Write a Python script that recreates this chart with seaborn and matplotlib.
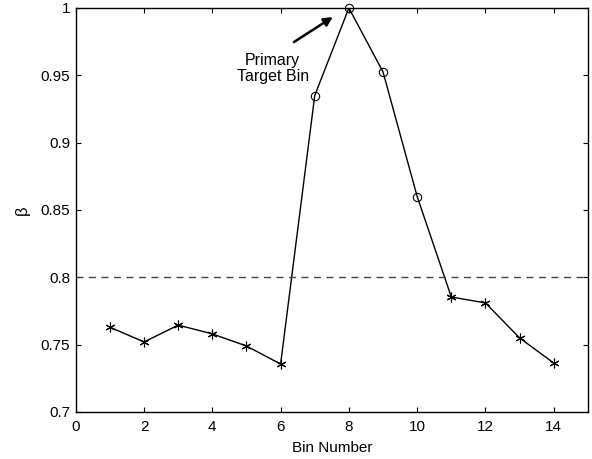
import matplotlib
matplotlib.use("Agg")
import matplotlib.pyplot as plt
import seaborn as sns
import pandas as pd

bins = [1, 2, 3, 4, 5, 6, 7, 8, 9, 10, 11, 12, 13, 14]
beta = [0.763, 0.752, 0.7645, 0.758, 0.749, 0.7356, 0.935, 1.0, 0.9525, 0.86, 0.7854, 0.781, 0.755, 0.7364]
target = [False]*6 + [True]*4 + [False]*4
threshold = 0.8
xticks = [0, 2, 4, 6, 8, 10, 12, 14]
yticks = [0.7, 0.75, 0.8, 0.85, 0.9, 0.95, 1.0]
ytick_labels = ["0.7", "0.75", "0.8", "0.85", "0.9", "0.95", "1"]

df = pd.DataFrame({"bin": bins, "beta": beta, "target": target})

sns.set_theme(style="white")
plt.rcParams['font.family'] = ['Liberation Sans', 'DejaVu Sans']
plt.rcParams['xtick.direction'] = 'in'
plt.rcParams['ytick.direction'] = 'in'
plt.rcParams['text.color'] = 'black'
plt.rcParams['axes.labelcolor'] = 'black'

fig = plt.figure(figsize=(5.92, 4.59), dpi=100)
ax = fig.add_axes([0.128, 0.1024, 0.865, 0.8802])

sns.lineplot(data=df, x="bin", y="beta", color="black", linewidth=1.0, ax=ax, legend=False)
other = df[~df["target"]]
tgt = df[df["target"]]
ax.plot(other["bin"], other["beta"], linestyle="none", marker=(6, 2, 0), markersize=7,
        color="black", markeredgewidth=0.8)
ax.plot(tgt["bin"], tgt["beta"], linestyle="none", marker="o", markersize=6,
        markerfacecolor="none", markeredgecolor="black", markeredgewidth=0.8, clip_on=False)

ax.axhline(threshold, color="#444444", linestyle=(0, (5, 4)), linewidth=1.0)

ax.annotate("", xy=(7.53, 0.9933), xytext=(6.39, 0.9747),
            arrowprops=dict(arrowstyle="-|>", color="black", lw=1.8,
                            shrinkA=0, shrinkB=0, mutation_scale=13))
ax.text(5.77, 0.955, "Primary\nTarget Bin", ha="center", va="center",
        fontsize=11.5, linespacing=1.1, color="black")

ax.set_xlim(0, 15)
ax.set_ylim(0.7, 1.0)
ax.set_xticks(xticks)
ax.set_yticks(yticks)
ax.set_yticklabels(ytick_labels)
ax.tick_params(axis="both", labelsize=11, length=3.5, width=0.8, colors="black",
               top=True, right=True, bottom=True, left=True)
ax.tick_params(axis="x", labeltop=False, pad=6)
ax.tick_params(axis="y", labelright=False, pad=4)
for s in ax.spines.values():
    s.set_color("black")
    s.set_linewidth(1.0)
ax.set_xlabel("Bin Number", fontsize=11, labelpad=5)
ax.set_ylabel("β", fontsize=12, labelpad=8)

fig.savefig("out.png", dpi=100)
